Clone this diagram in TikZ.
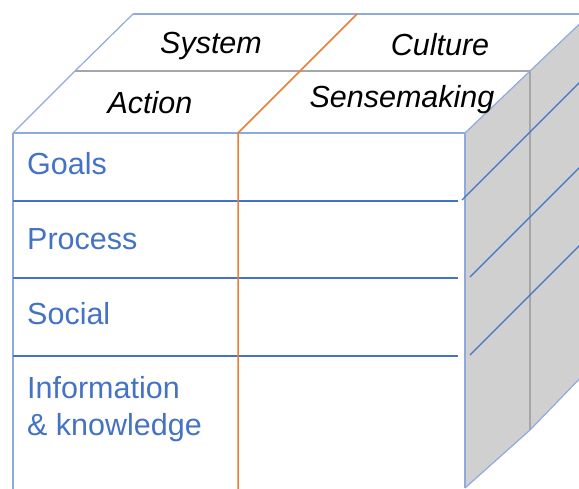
\documentclass[tikz,border=0pt]{standalone}
\usepackage{fontspec}
\setmainfont{Liberation Sans}
\definecolor{edgeblue}{HTML}{8FAADC}
\definecolor{rowblue}{HTML}{4472C4}
\definecolor{txtblue}{HTML}{4472C4}
\definecolor{axisorange}{HTML}{ED7D31}
\definecolor{sidegrey}{HTML}{D0D0D0}
\definecolor{midgrey}{HTML}{A6A6A6}
\begin{document}
\begin{tikzpicture}[x=1pt,y=-1pt,
  edge/.style={draw=edgeblue,line width=1.2pt},
  rowline/.style={draw=rowblue,line width=1.3pt},
  midline/.style={draw=midgrey,line width=1.2pt},
  axis/.style={draw=axisorange,line width=1.5pt,line join=round},
  toplabel/.style={font=\fontsize{30.5}{36}\selectfont\itshape,text=black,inner sep=0pt,anchor=base},
  rowlabel/.style={font=\fontsize{30.5}{36}\selectfont,text=txtblue,inner sep=0pt,anchor=base west}]
\useasboundingbox (0,0) rectangle (579,488);
\begin{scope}
\clip (0,0) rectangle (579,488);
% corners
\coordinate (FTL) at (13,133);
\coordinate (FTR) at (465,133);
\coordinate (FBL) at (13,500);
\coordinate (FBR) at (465,488);
\coordinate (MTL) at (75,71);
\coordinate (MTR) at (530,71);
\coordinate (BTL) at (133,14);
\coordinate (BTR) at (590,14);
\coordinate (MBR) at (530,430);
\coordinate (BBR) at (590,368);
% side face
\fill[sidegrey] (FTR) -- (MTR) -- (BTR) -- (BBR) -- (MBR) -- (FBR) -- cycle;
\draw[midline] (MTR) -- (MBR);
% top face
\draw[midline] (MTL) -- (MTR);
\draw[edge] (BTL) -- (BTR);
\draw[edge] (FTL) -- (MTL) -- (BTL);
\draw[edge] (FTR) -- (MTR) -- (BTR);
\draw[edge] (FTL) -- (FTR);
\draw[edge] (FTL) -- (FBL);
\draw[edge] (FTR) -- (FBR);
\draw[edge] (FBR) -- (MBR) -- (BBR);
% rows on front
\coordinate (R1a) at (13,201); \coordinate (R1b) at (458,201);
\coordinate (R2a) at (13,278); \coordinate (R2b) at (458,278);
\coordinate (R3a) at (13,356); \coordinate (R3b) at (458,356);
\draw[rowline] (R1a) -- (R1b);
\draw[rowline] (R2a) -- (R2b);
\draw[rowline] (R3a) -- (R3b);
% rows on side
\coordinate (S1a) at (462,200); \coordinate (S1b) at (585,77);
\coordinate (S2a) at (470,277); \coordinate (S2b) at (585,162);
\coordinate (S3a) at (470,355); \coordinate (S3b) at (585,240);
\draw[rowline] (S1a) -- (S1b);
\draw[rowline] (S2a) -- (S2b);
\draw[rowline] (S3a) -- (S3b);
% orange axis
\coordinate (OT) at (357,14);
\coordinate (OM) at (238,133);
\coordinate (OB) at (238,500);
\draw[axis] (OT) -- (OM) -- (OB);
\end{scope}
% labels
\node[toplabel] (sys) at (211,53) {System};
\node[toplabel] (cul) at (440,55) {Culture};
\node[toplabel] (act) at (150,113) {Action};
\node[toplabel] (sen) at (402,107) {Sensemaking};
\node[rowlabel] (goals) at (27,174) {Goals};
\node[rowlabel] (proc) at (27,249) {Process};
\node[rowlabel] (soc) at (27,324) {Social};
\node[rowlabel] (info) at (27,398) {Information};
\node[rowlabel] (know) at (27,435) {\& knowledge};
\end{tikzpicture}
\end{document}
